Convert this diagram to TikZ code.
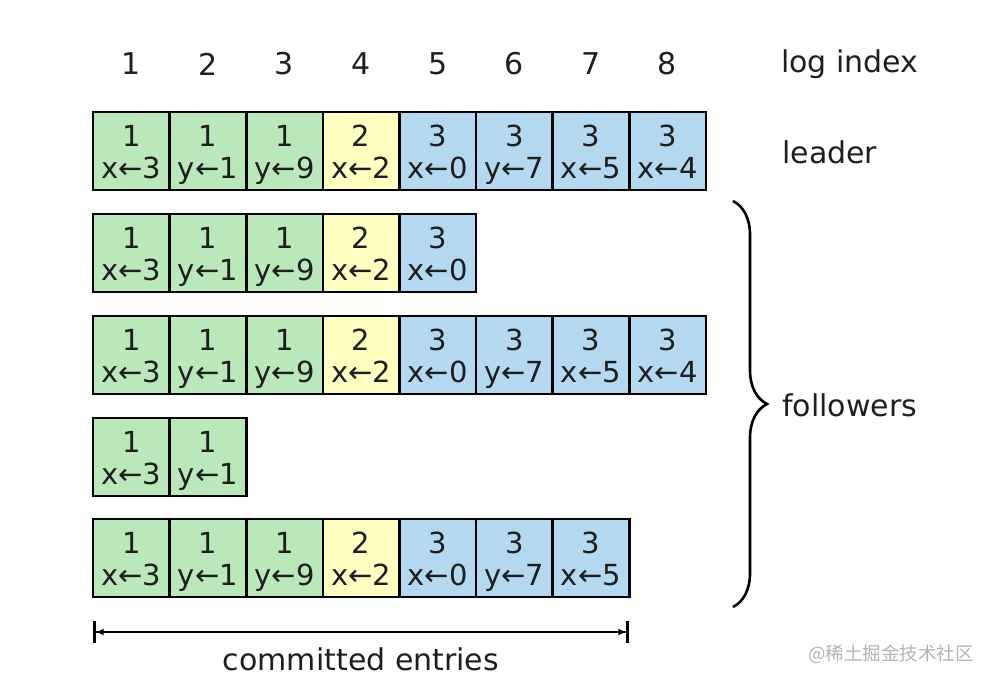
\documentclass[tikz,border=0pt]{standalone}
\usepackage{fontspec}
\setmainfont{DejaVu Sans}
\newfontfamily\cjk{Noto Sans CJK SC}
\usetikzlibrary{decorations.pathreplacing,arrows.meta}
\definecolor{tgreen}{HTML}{BAE8BA}
\definecolor{tyellow}{HTML}{FFFFC2}
\definecolor{tblue}{HTML}{B4D8F0}
\definecolor{ink}{HTML}{1E1E1E}
\begin{document}
\begin{tikzpicture}[x=1pt,y=-1pt,
  cell/.style={draw=black, line width=2.6pt, minimum width=76.6pt, minimum height=78pt,
    inner sep=0pt},
  t1/.style={cell, fill=tgreen},
  t2/.style={cell, fill=tyellow},
  t3/.style={cell, fill=tblue},
  celltext/.style={inner sep=0pt, align=center, font=\fontsize{29}{32}\selectfont, text=ink},
  lbl/.style={font=\fontsize{30}{34}\selectfont, text=ink, inner sep=0pt},
  wm/.style={font=\cjk\fontsize{18.5}{20}\selectfont, text=black!30, inner sep=0pt}]
\useasboundingbox (0,0) rectangle (990,684);
% header
\foreach \i in {1,...,8}{
  \node[lbl] (h\i) at ({93+76.6*(\i-0.5)},64) {\i};
}
\node[lbl,anchor=west] (logidx) at (781,64) {log index};
% rows
\def\terms{{1,1,1,2,3,3,3,3}}
\def\cmds{{"x←3","y←1","y←9","x←2","x←0","y←7","x←5","x←4"}}
\foreach \r/\n/\ty in {0/8/151, 1/5/253, 2/8/355, 3/2/457, 4/7/558}{
  \foreach \i in {1,...,\n}{
    \pgfmathtruncatemacro{\t}{\terms[\i-1]}
    \pgfmathsetmacro{\c}{\cmds[\i-1]}
    \node[t\t] (c\r-\i) at ({93+76.6*(\i-0.5)},\ty) {};
    \node[celltext] (x\r-\i) at ([yshift=-5.5pt]c\r-\i.center) {\t\strut\\\c\strut};
  }
}
\node[lbl,anchor=west] (leader) at (782,152) {leader};
\node[lbl,anchor=west] (followers) at (782,405) {followers};
% brace
\coordinate (bt) at (733,201);
\coordinate (bb) at (733,607);
\draw[line width=2.6pt, decorate, decoration={brace, amplitude=34pt, aspect=0.5}] (bt) -- (bb);
% committed
\coordinate (ca) at (93,632);
\coordinate (cb) at (629,632);
\draw[line width=1.6pt, {Bar[width=22pt,line width=2.6pt]Latex[length=8pt,width=7pt]}-{Latex[length=8pt,width=7pt]Bar[width=22pt,line width=2.6pt]}] (ca) -- (cb);
\node[lbl] (committed) at (361,659) {committed entries};
\node[wm,anchor=west] (wmk) at (808,654) {@稀土掘金技术社区};
\end{tikzpicture}
\end{document}
